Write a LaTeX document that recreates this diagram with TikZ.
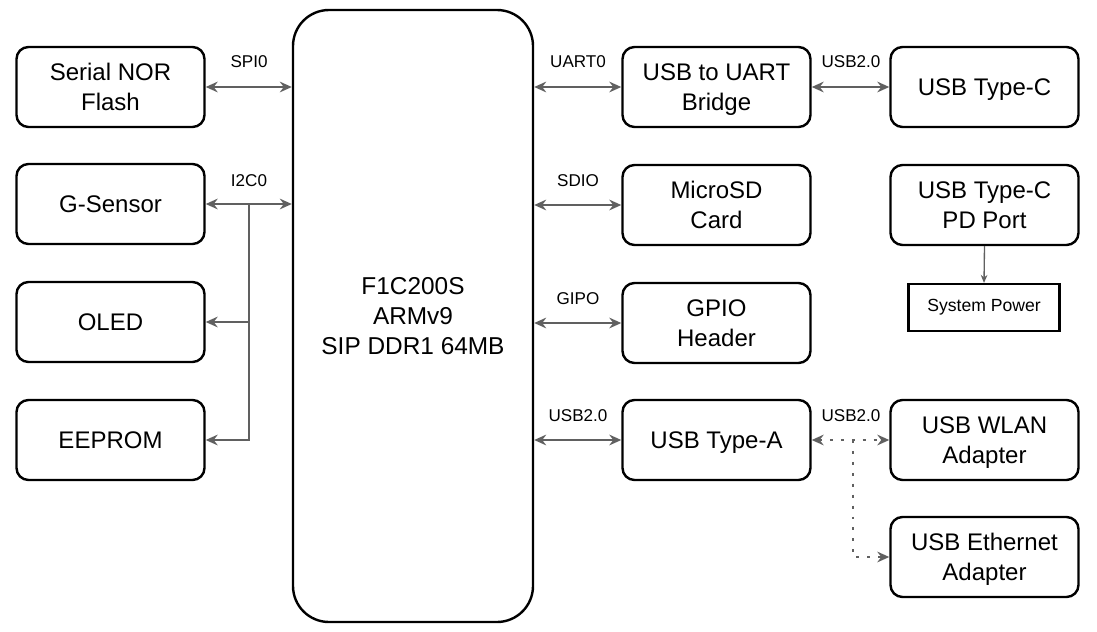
\documentclass[tikz,border=0pt]{standalone}
\usepackage{fontspec}
\setmainfont{Liberation Sans}
\usetikzlibrary{arrows.meta}
\definecolor{lgray}{RGB}{96,96,96}
\tikzset{
  tip/.tip={Stealth[length=9pt,width=8pt,inset=3pt]},
  blk/.style={draw, rounded corners=9pt, line width=1.8pt, minimum width=141pt, minimum height=60pt, inner sep=0pt, align=center, text depth=0pt, font=\fontsize{18}{22.5}\selectfont},
  lbl/.style={font=\fontsize{12.8}{15}\selectfont, inner sep=0pt},
  conn/.style={draw=lgray, line width=1.9pt, tip-tip},
  oneway/.style={draw=lgray, line width=1.9pt, -tip},
  dotconn/.style={draw=lgray, line width=2.2pt, dash pattern=on 2.2pt off 6pt},
}
\begin{document}
\begin{tikzpicture}[x=0.75pt,y=-0.75pt]
\useasboundingbox (0,0) rectangle (1097,632);
% left column
\node[blk] (nor) at (110.5,87) {Serial NOR\\Flash};
\node[blk] (gs) at (110.5,204) {G-Sensor};
\node[blk] (oled) at (110.5,322) {OLED};
\node[blk] (eep) at (110.5,440) {EEPROM};
% main
\node[blk, minimum width=180pt, minimum height=459pt, rounded corners=27pt, font=\fontsize{18.3}{22.5}\selectfont] (main) at (413,316) {F1C200S\\ARMv9\\SIP DDR1 64MB};
% middle right column
\node[blk] (uart) at (716.5,87) {USB to UART\\Bridge};
\node[blk] (sd) at (716.5,205) {MicroSD\\Card};
\node[blk] (gpio) at (716.5,323) {GPIO\\Header};
\node[blk] (usba) at (716.5,440) {USB Type-A};
% far right column
\node[blk] (usbc) at (984.5,87) {USB Type-C};
\node[blk] (pd) at (984.5,205) {USB Type-C\\PD Port};
\node[draw, line width=1.9pt, minimum width=113pt, minimum height=35pt, inner sep=0pt, font=\fontsize{13.2}{15}\selectfont] (sys) at (984,307.5) {System Power};
\node[blk] (wlan) at (984.5,440) {USB WLAN\\Adapter};
\node[blk] (eth) at (984.5,557) {USB Ethernet\\Adapter};
% left connectors
\draw[conn] (nor.east) -- (main.west |- nor.east);
\node[lbl] (lspi) at (249,62) {SPI0};
\draw[conn] (gs.east) -- (main.west |- gs.east);
\node[lbl] (li2c) at (249,181) {I2C0};
\coordinate (j) at (249,204);
\draw[oneway] (j) |- (oled.east);
\draw[oneway] (j) |- (eep.east);
% right connectors
\draw[conn] (main.east |- uart.west) -- (uart.west);
\node[lbl] (luart) at (578,62) {UART0};
\draw[conn] (main.east |- sd.west) -- (sd.west);
\node[lbl] (lsd) at (578,181) {SDIO};
\draw[conn] (main.east |- gpio.west) -- (gpio.west);
\node[lbl] (lgpio) at (578,299) {GIPO};
\draw[conn] (main.east |- usba.west) -- (usba.west);
\node[lbl] (lusba) at (578,416) {USB2.0};
\draw[conn] (uart.east) -- (usbc.west);
\node[lbl] (lusbc) at (851,62) {USB2.0};
\draw[draw=lgray, line width=1pt, -{Stealth[length=6pt,width=5pt,inset=2pt]}] (pd.south) -- (sys.north);
% dotted
\draw[dotconn, tip-tip] (usba.east) -- (wlan.west);
\node[lbl] (lwlan) at (851,416) {USB2.0};
\coordinate (k) at (853,440);
\draw[dotconn, -tip] (k) |- (eth.west);
\end{tikzpicture}
\end{document}
